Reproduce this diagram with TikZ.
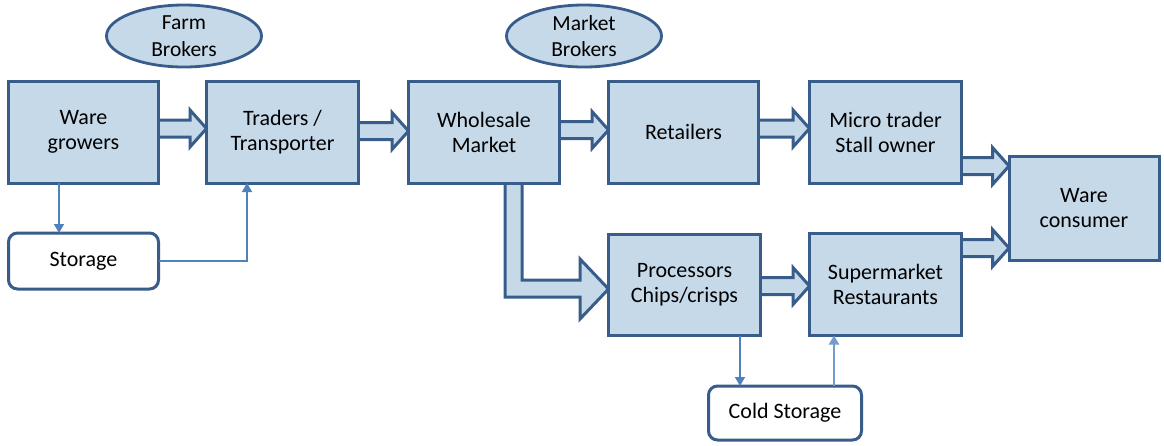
\documentclass[tikz,border=0pt]{standalone}
\usepackage{fontspec}
\setmainfont{Carlito}
\usetikzlibrary{calc,shapes.geometric,arrows.meta}
\pgfdeclarelayer{bg}
\pgfsetlayers{bg,main}
\definecolor{boxfill}{RGB}{198,217,233}
\definecolor{boxline}{RGB}{56,93,138}
\definecolor{thinblue}{RGB}{79,129,189}
\definecolor{thinlight}{RGB}{115,155,205}
\tikzset{
  txt/.style={font=\fontsize{22}{25}\selectfont, align=center},
  stage/.style={txt, draw=boxline, fill=boxfill, line width=3pt, inner sep=0pt, outer sep=0pt, minimum height=102pt},
  store/.style={txt, draw=boxline, fill=white, line width=3pt, rounded corners=9pt, inner sep=0pt, outer sep=0pt},
  broker/.style={ellipse, draw=boxline, fill=boxfill, line width=2.8pt, inner sep=0pt, outer sep=0pt, minimum width=155pt, minimum height=62pt, align=center, font=\fontsize{21.5}{26.5}\selectfont},
  barrow/.style={draw=boxline, fill=boxfill, line width=3pt, line join=miter},
  thinar/.style={draw=thinblue, line width=1.5pt, -{Triangle[length=9pt,width=10pt]}},
}
\newcommand\blockar[3]{%
  \begin{pgfonlayer}{bg}
  \path[barrow] let \p1=(#1.east), \p2=(#2.west) in
    (\x1-4pt,-#3pt+8.5pt) -- (\x2-16.5pt,-#3pt+8.5pt) -- (\x2-16.5pt,-#3pt+18.5pt) -- (\x2,-#3pt)
    -- (\x2-16.5pt,-#3pt-18.5pt) -- (\x2-16.5pt,-#3pt-8.5pt) -- (\x1-4pt,-#3pt-8.5pt);
  \end{pgfonlayer}
}
\begin{document}
\begin{tikzpicture}[x=1pt,y=-1pt]
\useasboundingbox (0,0) rectangle (1164,445);
% brokers
\node[broker] (fb) at (184,36) {Farm\\Brokers};
\node[broker] (mb) at (584,36) {Market\\Brokers};
% top row
\node[stage, minimum width=150pt] (wg) at (83.5,132) {Ware\\growers};
\node[stage, minimum width=152pt] (tr) at (282.5,132) {Traders /\\Transporter};
\node[stage, minimum width=151pt] (wm) at (484,132) {Wholesale\\Market};
\node[stage, minimum width=150pt] (rt) at (683.5,132) {Retailers};
\node[stage, minimum width=152pt] (mt) at (885.5,132) {Micro trader\\Stall owner};
% right
\node[stage, minimum width=150pt, minimum height=104pt] (wc) at (1084,208.5) {Ware\\consumer};
% lower row
\node[stage, minimum width=152pt, minimum height=101pt] (pr) at (684.5,285) {Processors\\Chips/crisps};
\node[stage, minimum width=152pt] (sm) at (885.5,284.5) {Supermarket\\Restaurants};
% storages
\node[store, minimum width=150pt, minimum height=56pt] (st) at (83.5,261) {Storage};
\node[store, minimum width=153pt, minimum height=54pt] (cs) at (785,413) {Cold Storage};
% block arrows
\blockar{wg}{tr}{128.5}
\blockar{tr}{wm}{131}
\blockar{wm}{rt}{130}
\blockar{rt}{mt}{128.5}
\blockar{mt}{wc}{166}
\blockar{sm}{wc}{248}
\blockar{pr}{sm}{286}
\begin{pgfonlayer}{bg}
\path[barrow] let \p1=(wm.south), \p2=(pr.west) in
  (505pt,\y1+4pt) -- (505pt,-297pt) -- (580pt,-297pt) -- (580pt,-319pt) -- (\x2,-289pt)
  -- (580pt,-259pt) -- (580pt,-280pt) -- (522pt,-280pt) -- (522pt,\y1+4pt);
\end{pgfonlayer}
% thin arrows
\coordinate (a1) at ($(wg.south)+(-24.5,0)$);
\draw[thinar] (a1) -- (a1 |- st.north);
\coordinate (a2) at ($(tr.south)+(-35.5,0)$);
\draw[thinar] (st.east) -| (a2);
\coordinate (a3) at ($(pr.south)+(55.5,0)$);
\draw[thinar] (a3) -- (a3 |- cs.north);
\coordinate (a4) at ($(cs.north)+(49,0)$);
\draw[thinar, draw=thinlight, line width=2.2pt] (a4) -- (a4 |- sm.south);
\end{tikzpicture}
\end{document}
